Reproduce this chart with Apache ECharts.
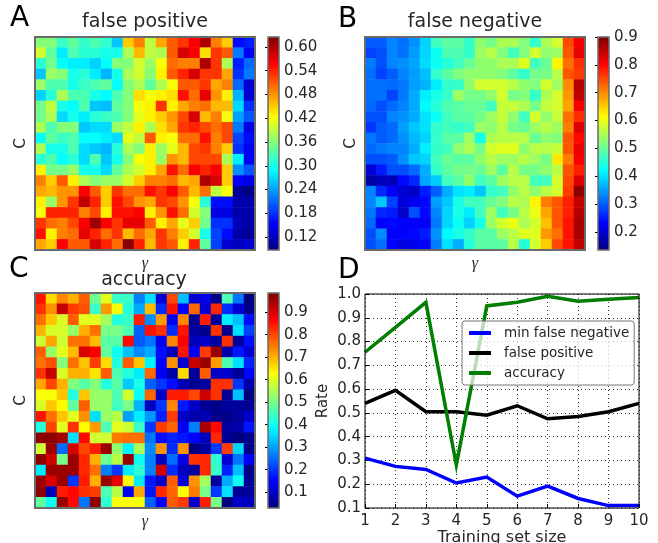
<!DOCTYPE html>
<html><head><meta charset="utf-8">
<style>html,body{margin:0;padding:0;background:#fff}#c{width:658px;height:543px}</style>
<script src="https://cdn.jsdelivr.net/npm/echarts@6/dist/echarts.min.js"></script>
</head><body><div id="c"></div>
<script>
const falsePositive = [
[.36,.36,.32,.34,.315,.33,.315,.26,.45,.49,.39,.47,.51,.53,.56,.60,.49,.45,.16,.17],
[.40,.34,.28,.33,.31,.31,.30,.30,.38,.46,.39,.38,.51,.58,.56,.44,.53,.51,.22,.15],
[.31,.35,.29,.28,.28,.265,.29,.36,.36,.40,.37,.42,.50,.49,.49,.60,.53,.38,.17,.21],
[.26,.37,.36,.30,.31,.28,.25,.30,.38,.40,.36,.43,.51,.54,.58,.53,.53,.47,.18,.22],
[.37,.33,.33,.30,.32,.33,.34,.29,.36,.38,.34,.38,.42,.51,.51,.53,.47,.49,.21,.13],
[.265,.31,.38,.33,.33,.30,.29,.33,.36,.44,.42,.43,.44,.55,.50,.57,.48,.43,.25,.13],
[.35,.39,.30,.29,.33,.26,.255,.34,.36,.42,.43,.53,.43,.47,.49,.50,.46,.46,.27,.18],
[.35,.38,.27,.30,.28,.31,.32,.33,.36,.41,.43,.45,.48,.52,.58,.46,.49,.42,.24,.20],
[.38,.33,.36,.36,.26,.27,.27,.37,.39,.43,.38,.44,.47,.53,.54,.52,.50,.52,.22,.14],
[.29,.34,.32,.33,.29,.29,.28,.27,.41,.39,.51,.43,.42,.50,.50,.55,.49,.52,.19,.16],
[.38,.30,.30,.33,.27,.26,.25,.31,.38,.36,.43,.37,.41,.46,.52,.53,.49,.45,.18,.15],
[.31,.33,.29,.31,.27,.33,.26,.30,.36,.42,.43,.37,.48,.46,.52,.52,.52,.38,.28,.15],
[.43,.35,.35,.37,.30,.30,.27,.34,.38,.40,.43,.47,.55,.50,.56,.54,.56,.45,.23,.20],
[.49,.45,.51,.43,.38,.36,.37,.37,.40,.45,.49,.49,.50,.46,.47,.60,.58,.45,.15,.14],
[.47,.46,.48,.48,.56,.51,.45,.53,.50,.50,.55,.53,.56,.51,.46,.50,.39,.42,.10,.09],
[.43,.37,.48,.53,.59,.54,.45,.55,.52,.48,.47,.53,.52,.48,.42,.31,.16,.16,.11,.11],
[.42,.54,.54,.54,.49,.52,.43,.55,.55,.56,.43,.48,.55,.50,.40,.36,.14,.14,.11,.11],
[.53,.50,.49,.52,.56,.61,.56,.53,.57,.57,.51,.43,.47,.41,.45,.35,.18,.18,.12,.11],
[.55,.43,.49,.50,.57,.54,.50,.53,.46,.50,.47,.53,.49,.45,.40,.30,.19,.16,.11,.10],
[.47,.45,.56,.51,.51,.58,.54,.50,.62,.54,.46,.53,.51,.43,.54,.34,.19,.13,.12,.13]];
const falseNegative = [
[.30,.30,.33,.315,.34,.39,.47,.49,.49,.46,.53,.51,.55,.55,.52,.46,.55,.58,.75,.81],
[.28,.29,.33,.315,.35,.39,.43,.48,.48,.46,.54,.56,.52,.47,.52,.58,.53,.54,.74,.82],
[.325,.29,.33,.34,.355,.395,.43,.45,.47,.50,.53,.53,.55,.55,.59,.47,.50,.62,.72,.77],
[.315,.28,.30,.33,.35,.375,.46,.49,.52,.53,.53,.53,.52,.49,.46,.51,.51,.56,.74,.76],
[.315,.315,.31,.32,.35,.365,.41,.46,.46,.53,.58,.58,.58,.56,.53,.52,.58,.54,.70,.86],
[.315,.315,.28,.32,.36,.41,.44,.46,.54,.51,.51,.53,.58,.51,.52,.46,.55,.58,.69,.85],
[.31,.29,.31,.33,.36,.42,.45,.48,.49,.50,.50,.47,.57,.57,.55,.51,.57,.58,.68,.81],
[.29,.29,.33,.34,.36,.40,.43,.47,.49,.49,.51,.54,.57,.53,.47,.58,.53,.57,.72,.77],
[.27,.30,.31,.35,.38,.40,.46,.47,.46,.47,.54,.53,.56,.51,.50,.54,.56,.54,.71,.83],
[.32,.30,.31,.34,.37,.39,.46,.49,.49,.54,.44,.55,.56,.56,.56,.50,.53,.52,.74,.80],
[.31,.32,.33,.33,.36,.41,.46,.47,.53,.55,.51,.58,.59,.59,.53,.56,.56,.57,.74,.82],
[.29,.29,.30,.34,.38,.39,.47,.50,.49,.49,.53,.56,.54,.54,.56,.54,.51,.63,.71,.81],
[.20,.25,.29,.29,.31,.36,.46,.49,.51,.51,.50,.54,.49,.56,.51,.51,.53,.56,.74,.78],
[.165,.18,.18,.235,.26,.355,.385,.47,.49,.53,.47,.49,.54,.56,.56,.47,.47,.58,.75,.83],
[.33,.26,.225,.20,.19,.25,.30,.36,.40,.41,.38,.46,.47,.53,.56,.53,.56,.58,.76,.89],
[.33,.38,.28,.205,.22,.235,.35,.38,.44,.47,.47,.50,.52,.56,.55,.62,.71,.74,.78,.85],
[.32,.26,.25,.19,.29,.235,.33,.39,.44,.41,.47,.54,.47,.51,.56,.60,.68,.74,.78,.86],
[.31,.23,.235,.23,.225,.225,.32,.39,.43,.39,.44,.54,.58,.60,.55,.58,.66,.74,.79,.87],
[.29,.335,.23,.23,.235,.25,.34,.42,.44,.46,.49,.49,.54,.56,.59,.59,.69,.72,.79,.87],
[.29,.315,.23,.21,.22,.225,.325,.40,.36,.45,.49,.49,.49,.56,.45,.58,.65,.75,.79,.85]];
const accuracyGrid = [
[.85,.66,.74,.70,.78,.49,.60,.44,.44,.27,.36,.11,.80,.33,.11,.13,.04,.46,.26,.03],
[.82,.73,.92,.81,.79,.44,.72,.62,.42,.31,.69,.19,.85,.15,.77,.11,.83,.19,.11,.04],
[.76,.68,.59,.78,.60,.60,.54,.42,.44,.84,.28,.72,.14,.74,.05,.84,.06,.37,.33,.16],
[.70,.59,.59,.53,.70,.76,.50,.50,.46,.24,.85,.82,.19,.85,.06,.04,.82,.04,.36,.21],
[.58,.71,.58,.76,.76,.69,.47,.47,.86,.23,.26,.13,.74,.87,.09,.10,.06,.82,.06,.16],
[.78,.53,.60,.69,.90,.87,.48,.40,.33,.28,.31,.16,.08,.85,.14,.81,.96,.07,.17,.11],
[.76,.79,.51,.76,.68,.81,.66,.42,.78,.68,.38,.15,.73,.11,.92,.96,.72,.46,.36,.18],
[.82,.92,.59,.70,.70,.65,.78,.46,.42,.37,.77,.14,.07,.66,.06,.78,.10,.10,.05,.15],
[.71,.80,.70,.51,.47,.51,.42,.47,.34,.41,.24,.20,.16,.08,.05,.06,.82,.82,.20,.07],
[.62,.62,.68,.42,.68,.53,.53,.46,.58,.39,.77,.10,.84,.84,.80,.91,.82,.05,.33,.03],
[.59,.68,.63,.48,.78,.53,.53,.45,.50,.32,.09,.20,.74,.17,.10,.05,.04,.06,.06,.05],
[.85,.76,.68,.60,.73,.36,.53,.56,.30,.37,.29,.18,.81,.10,.07,.08,.04,.04,.06,.10],
[.42,.80,.60,.82,.63,.72,.46,.60,.58,.44,.20,.81,.77,.14,.27,.95,.86,.06,.07,.17],
[.97,.97,.95,.36,.86,.58,.58,.75,.76,.76,.26,.16,.18,.17,.15,.09,.83,.05,.03,.04],
[.58,.96,.25,.90,.80,.84,.96,.52,.38,.55,.28,.73,.19,.73,.03,.06,.20,.81,.35,.04],
[.97,.91,.50,.96,.83,.70,.49,.56,.96,.40,.27,.09,.25,.13,.82,.83,.43,.11,.26,.14],
[.37,.96,.96,.96,.83,.76,.27,.20,.37,.43,.27,.91,.19,.09,.06,.83,.44,.18,.33,.04],
[.96,.90,.96,.20,.84,.70,.96,.89,.63,.37,.17,.10,.78,.12,.73,.54,.06,.31,.40,.05],
[.97,.08,.84,.86,.82,.81,.46,.56,.13,.71,.17,.83,.77,.62,.75,.50,.20,.36,.05,.06],
[.48,.40,.96,.86,.26,.97,.43,.62,.62,.62,.24,.15,.78,.81,.10,.84,.50,.03,.10,.09]];

const trainingSizes = [1,2,3,4,5,6,7,8,9,10];
const minFalseNegative = [.31,.275,.262,.205,.23,.15,.192,.14,.11,.11];
const falsePositiveLine = [.54,.595,.505,.505,.49,.53,.475,.485,.505,.54];
const accuracyLine = [.755,.86,.965,.28,.95,.965,.99,.97,.978,.985];
const ticksA = [.12,.18,.24,.30,.36,.42,.48,.54,.60];
const ticksB = [.2,.3,.4,.5,.6,.7,.8,.9];
const ticksC = [.1,.2,.3,.4,.5,.6,.7,.8,.9];
const gammaCats = Array.from({length:20},(_,i)=>String(i));
const cCats = Array.from({length:20},(_,i)=>String(i));

const jet = ['#00007f','#0000ff','#007fff','#00ffff','#7fff7f','#ffff00','#ff7f00','#ff0000','#7f0000'];
const ink = '#262626', font = 'DejaVu Sans', frame = '#6a6a6a';

const panels = [
 {title:'false positive',letter:'A',lx:10,ly:5,tx:145,ty:13,data:falsePositive,vmin:.0875,vmax:.625,ticks:ticksA,dec:2,left:35,top:37,h:213,cb:268},
 {title:'false negative',letter:'B',lx:338,ly:6,tx:475,ty:13,data:falseNegative,vmin:.135,vmax:.9,ticks:ticksB,dec:1,left:365,top:37,h:213,cb:598},
 {title:'accuracy',letter:'C',lx:9,ly:256,tx:144,ty:271,data:accuracyGrid,vmin:.03,vmax:.985,ticks:ticksC,dec:1,left:35,top:293,h:215,cb:268}
];
const grids=[],xAxes=[],yAxes=[],series=[],visualMaps=[],titles=[];
const every5 = i => i>0 && i%5===0;
panels.forEach(p=>{
  const gi=grids.length;
  grids.push({left:p.left,top:p.top,width:220,height:p.h,outerBoundsMode:'none',show:true,borderColor:frame,borderWidth:2,backgroundColor:'transparent',z:5});
  xAxes.push({gridIndex:gi,type:'category',data:gammaCats,position:'bottom',name:'γ',nameLocation:'middle',nameGap:6,
    nameTextStyle:{fontFamily:'Liberation Serif',fontStyle:'italic',fontSize:16,color:ink},
    axisLine:{show:false},axisLabel:{show:false},splitLine:{show:false},axisTick:{show:false}});
  yAxes.push({gridIndex:gi,type:'category',data:cCats,inverse:true,position:'left',name:'C',nameLocation:'middle',nameGap:6,
    nameTextStyle:{fontFamily:font,fontSize:15,color:ink},
    axisLine:{show:false},axisLabel:{show:false},splitLine:{show:false},
    axisTick:{show:true,inside:true,length:4,alignWithLabel:false,interval:every5,lineStyle:{color:'#000'}}});
  const flat=[];
  p.data.forEach((row,y)=>row.forEach((v,x)=>flat.push([x,y,v])));
  const si=series.length;
  series.push({type:'heatmap',xAxisIndex:gi,yAxisIndex:gi,data:flat,progressive:0,silent:true,itemStyle:{borderWidth:0}});
  visualMaps.push({type:'continuous',seriesIndex:si,min:p.vmin,max:p.vmax,left:p.cb,top:p.top,itemWidth:11,itemHeight:p.h,
    padding:0,calculable:false,inRange:{color:jet},text:null,realtime:false,hoverLink:false,showLabel:false});
  const ci=grids.length;
  grids.push({left:p.cb,top:p.top,width:11,height:p.h,outerBoundsMode:'none',show:true,borderColor:frame,borderWidth:1.5,backgroundColor:'transparent',z:5});
  xAxes.push({gridIndex:ci,type:'value',show:false,min:0,max:1});
  yAxes.push({gridIndex:ci,type:'value',position:'right',min:p.vmin,max:p.vmax,splitLine:{show:false},axisLine:{show:false},
    axisTick:{show:true,inside:true,length:3,customValues:p.ticks,lineStyle:{color:'#000'}},
    axisLabel:{show:true,customValues:p.ticks,margin:5,color:ink,fontFamily:font,fontSize:15,formatter:v=>(+v).toFixed(p.dec),showMinLabel:true,showMaxLabel:true}});
  titles.push({text:p.title,left:p.tx,top:p.ty,textAlign:'center',padding:0,textStyle:{fontFamily:font,fontSize:19,fontWeight:'normal',color:ink}});
  titles.push({text:p.letter,left:p.lx,top:p.ly,padding:0,textStyle:{fontFamily:font,fontSize:28,fontWeight:'normal',color:'#000'}});
});
titles.push({text:'D',left:338,top:257,padding:0,textStyle:{fontFamily:font,fontSize:28,fontWeight:'normal',color:'#000'}});

const di=grids.length;
grids.push({left:365,top:294,width:274,height:214,outerBoundsMode:'none',show:true,borderColor:'#000',borderWidth:1,backgroundColor:'transparent',z:5});
const dotted={show:true,lineStyle:{color:'#333',type:[1,3],width:1}};
xAxes.push({gridIndex:di,type:'value',min:1,max:10,interval:1,name:'Training set size',nameLocation:'middle',nameGap:21,
  nameTextStyle:{fontFamily:font,fontSize:16,color:ink},splitLine:dotted,axisLine:{show:false},
  axisTick:{show:true,inside:true,length:4,lineStyle:{color:'#000'}},
  axisLabel:{margin:6,color:ink,fontFamily:font,fontSize:15,showMinLabel:true,showMaxLabel:true}});
yAxes.push({gridIndex:di,type:'value',min:.1,max:1,interval:.1,name:'Rate',nameLocation:'middle',nameGap:34,
  nameTextStyle:{fontFamily:font,fontSize:15,color:ink},splitLine:dotted,axisLine:{show:false},
  axisTick:{show:true,inside:true,length:4,lineStyle:{color:'#000'}},
  axisLabel:{margin:4,color:ink,fontFamily:font,fontSize:15,formatter:v=>(+v).toFixed(1),showMinLabel:true,showMaxLabel:true}});
const lineSeries=(name,vals,color)=>({type:'line',name,xAxisIndex:di,yAxisIndex:di,data:trainingSizes.map((x,i)=>[x,vals[i]]),
  symbol:'none',lineStyle:{color,width:3.5,join:'miter'},itemStyle:{color},silent:true,clip:true,z:3});
series.push(lineSeries('min false negative',minFalseNegative,'#0000ff'));
series.push(lineSeries('false positive',falsePositiveLine,'#000000'));
series.push(lineSeries('accuracy',accuracyLine,'#007f00'));

// tick marks on the right edge of each heatmap
panels.forEach((p,k)=>{
  yAxes.push({gridIndex:k*2,type:'category',data:cCats,inverse:true,position:'right',
    axisLine:{show:false},axisLabel:{show:false},splitLine:{show:false},
    axisTick:{show:true,inside:true,length:4,alignWithLabel:false,interval:every5,lineStyle:{color:'#000'}}});
});

const chart=echarts.init(document.getElementById('c'),null,{renderer:'canvas'});
chart.setOption({
  animation:false,backgroundColor:'#fff',
  title:titles,grid:grids,xAxis:xAxes,yAxis:yAxes,series,visualMap:visualMaps,
  legend:{show:true,orient:'vertical',left:462,top:321,width:171,padding:[5,5,5,7],itemGap:6,itemWidth:22,itemHeight:4,icon:'rect',
    data:['min false negative','false positive','accuracy'],
    backgroundColor:'rgba(255,255,255,0.72)',borderColor:'#777',borderWidth:1,borderRadius:3,selectedMode:false,z:20,
    textStyle:{fontFamily:font,fontSize:13.5,color:ink,padding:[0,0,0,8],height:14,lineHeight:14}}
});
</script></body></html>
